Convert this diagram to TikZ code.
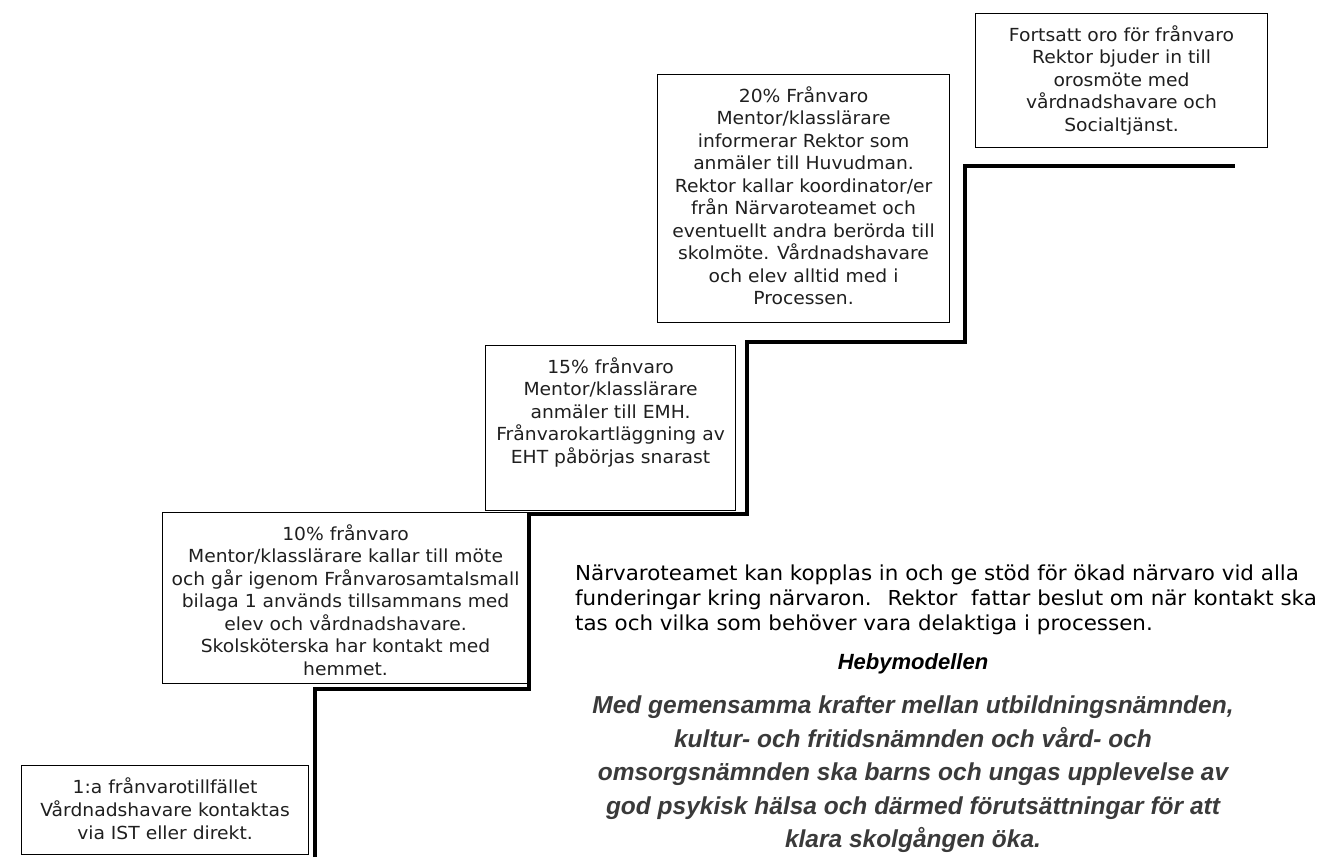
\documentclass[tikz,border=0pt]{standalone}
\usepackage{fontspec}
\setmainfont[FakeStretch=1.04]{DejaVu Sans}
\newfontfamily\hebyfont{Liberation Sans}
\usetikzlibrary{positioning}
\definecolor{quotegray}{HTML}{3A3A3A}

\begin{document}
\begin{tikzpicture}[
    x = 1pt,
    y = -1pt,
    step box/.style = {
      draw,
      line width = 1.1pt,
      inner sep = 0pt,
      anchor = north west
    },
    step text/.style = {
      anchor = north,
      inner xsep = 0pt,
      inner ysep = 12pt,
      align = center,
      text = black!88,
      font = \fontsize{18}{22.5}\selectfont
    }
  ]
  \useasboundingbox (0,0) rectangle (1324,857);
  \coordinate (O) at (0,0);
  \scope[]
    \node[step box, minimum width = 287pt, minimum height = 89pt] (lvlA) at (21,765) {};
    \node[step text] (lvlAtext) at (lvlA.north) {\strut 1:a frånvarotillfället\\
      Vårdnadshavare kontaktas\\ via IST eller direkt.};

    \node[step box, minimum width = 366pt, minimum height = 171pt] (lvlB) at (162,512) {};
    \node[step text] (lvlBtext) at (lvlB.north) {\strut 10\% frånvaro\\
      Mentor/klasslärare kallar till möte\\ och går igenom Frånvarosamtalsmall\\
      bilaga 1 används tillsammans med\\ elev och vårdnadshavare.\\
      Skolsköterska har kontakt med\\ hemmet.};

    \node[step box, minimum width = 250pt, minimum height = 165pt] (lvlC) at (485,345) {};
    \node[step text] (lvlCtext) at (lvlC.north) {\strut 15\% frånvaro\\
      Mentor/klasslärare\\ anmäler till EMH.\\ Frånvarokartläggning av\\
      EHT påbörjas snarast};

    \node[step box, minimum width = 292pt, minimum height = 248pt] (lvlD) at (657,74) {};
    \node[step text] (lvlDtext) at (lvlD.north) {\strut 20\% Frånvaro\\
      Mentor/klasslärare\\ informerar Rektor som\\ anmäler till Huvudman.\\
      Rektor kallar koordinator/er\\ från Närvaroteamet och\\
      eventuellt andra berörda till\\ skolmöte. Vårdnadshavare\\
      och elev alltid med i\\ Processen.};

    \node[step box, minimum width = 292pt, minimum height = 134pt] (lvlE) at (975,13) {};
    \node[step text] (lvlEtext) at (lvlE.north) {\strut Fortsatt oro för frånvaro\\
      Rektor bjuder in till\\ orosmöte med\\ vårdnadshavare och\\ Socialtjänst.};

    \draw[black, line width = 4.5] plot[] coordinates {(315,857) (315,689) (529,689)
      (529,514) (747,514) (747,342) (965,342) (965,166) (1235,166)};

    \node[anchor = north west, inner sep = 0pt, align = left,
      font = \fontsize{20.6}{25}\selectfont] (note) at (575,563)
      {\strut Närvaroteamet kan kopplas in och ge stöd för ökad närvaro vid alla\\
      funderingar kring närvaron.~ Rektor~ fattar beslut om när kontakt ska\\
      tas och vilka som behöver vara delaktiga i processen.};

    \node[font = \hebyfont\bfseries\itshape\fontsize{22}{25}\selectfont] (heby) at (913,664)
      {Hebymodellen};

    \node[anchor = north, inner sep = 0pt, align = center, text = quotegray,
      font = \hebyfont\bfseries\itshape\fontsize{24.5}{33.5}\selectfont] (vision) at (913,690)
      {\strut Med gemensamma krafter mellan utbildningsnämnden,\\
      kultur- och fritidsnämnden och vård- och\\
      omsorgsnämnden ska barns och ungas upplevelse av\\
      god psykisk hälsa och därmed förutsättningar för att\\
      klara skolgången öka.};
  \endscope
\end{tikzpicture}
\end{document}
